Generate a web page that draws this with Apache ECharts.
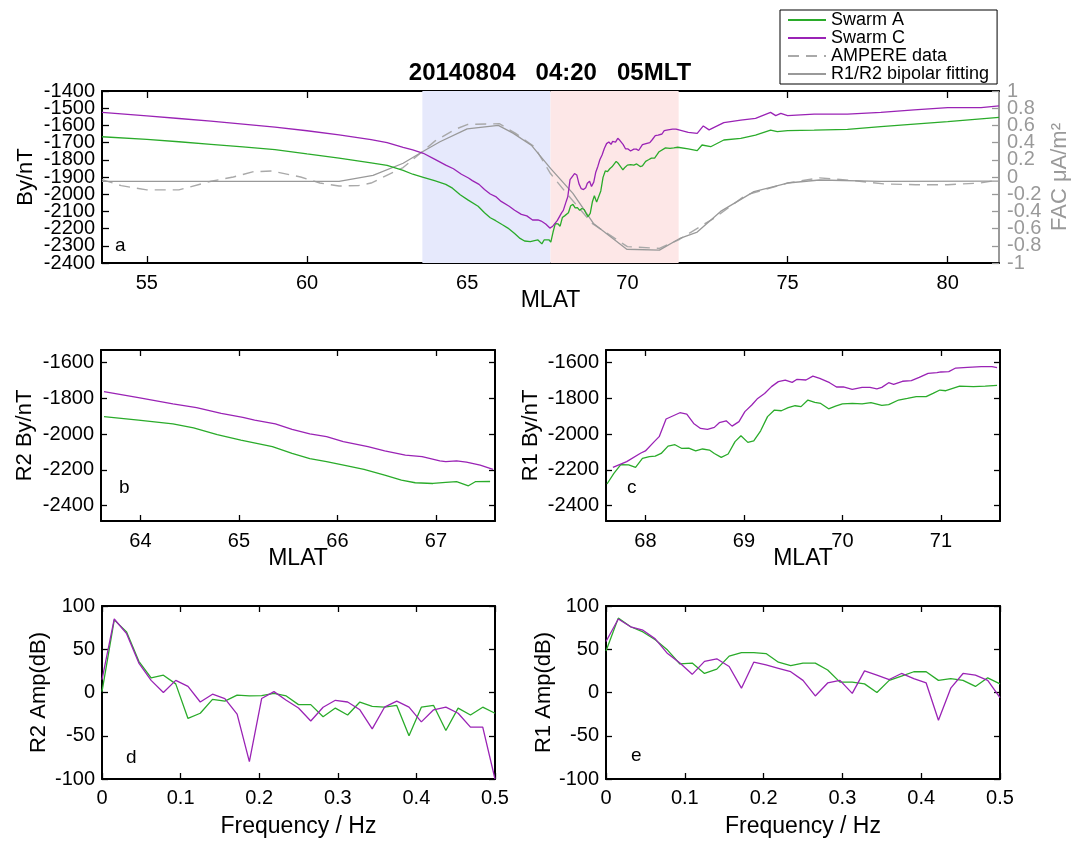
<!DOCTYPE html>
<html>
<head>
<meta charset="utf-8">
<script src="https://cdn.jsdelivr.net/npm/echarts@6/dist/echarts.min.js"></script>
<style>
html, body { margin: 0; background: #fff; }
#chart { width: 1084px; height: 842px; }
</style>
</head>
<body>
<div id="chart"></div>
<script>
// ---- data ----
// panel a, equatorward of the R2 region
const leftMlat = [53.6, 55, 56, 57, 58, 59, 60, 61, 62, 62.5, 63, 63.3]
const leftSwarmA = [-1666, -1681, -1695, -1710, -1725, -1741, -1766, -1790, -1818, -1832, -1862, -1884]
const leftSwarmC = [-1524, -1545, -1560, -1575, -1592, -1610, -1631, -1655, -1683, -1700, -1728, -1742]

// R2 region (panel b)
const r2MlatA = [63.63, 63.98, 64.33, 64.54, 64.78, 65.02, 65.34, 65.54, 65.72, 65.89, 66.1, 66.27, 66.48, 66.65, 66.79, 66.97, 67.1, 67.21, 67.33, 67.4, 67.55]
const r2ByA = [-1902, -1921, -1943, -1965, -2003, -2033, -2070, -2108, -2137, -2154, -2178, -2197, -2229, -2257, -2272, -2276, -2270, -2266, -2289, -2266, -2265]
const r2MlatC = [63.63, 63.98, 64.33, 64.57, 64.82, 65.04, 65.16, 65.37, 65.54, 65.72, 65.89, 66.06, 66.31, 66.48, 66.69, 66.86, 67.04, 67.1, 67.21, 67.31, 67.45, 67.58]
const r2ByC = [-1762, -1796, -1831, -1852, -1884, -1906, -1921, -1943, -1973, -1999, -2014, -2042, -2070, -2093, -2117, -2126, -2150, -2154, -2149, -2156, -2173, -2197]

// R1 region (panel c)
const r1MlatA = [67.61, 67.68, 67.75, 67.83, 67.9, 67.97, 68.04, 68.1, 68.16, 68.23, 68.3, 68.37, 68.44, 68.51, 68.58, 68.65, 68.7, 68.77, 68.84, 68.91, 68.97, 69.04, 69.1, 69.17, 69.24, 69.31, 69.38, 69.45, 69.52, 69.58, 69.65, 69.72, 69.78, 69.86, 69.93, 70.0, 70.1, 70.2, 70.29, 70.4, 70.47, 70.57, 70.66, 70.75, 70.85, 70.92, 70.99, 71.05, 71.19, 71.33, 71.45, 71.57]
const r1ByA = [-2279, -2220, -2171, -2172, -2186, -2136, -2126, -2123, -2108, -2067, -2059, -2080, -2078, -2094, -2083, -2089, -2108, -2130, -2111, -2042, -2009, -2046, -2037, -1981, -1902, -1865, -1869, -1852, -1841, -1846, -1809, -1822, -1828, -1858, -1843, -1831, -1828, -1831, -1824, -1839, -1835, -1809, -1800, -1790, -1790, -1772, -1753, -1757, -1731, -1734, -1731, -1727]
const r1MlatC = [67.67, 67.81, 67.95, 68.0, 68.09, 68.14, 68.21, 68.35, 68.42, 68.49, 68.56, 68.63, 68.7, 68.75, 68.82, 68.88, 68.95, 69.01, 69.08, 69.14, 69.21, 69.28, 69.35, 69.42, 69.49, 69.54, 69.63, 69.7, 69.77, 69.87, 69.94, 70.01, 70.1, 70.2, 70.28, 70.35, 70.4, 70.47, 70.52, 70.61, 70.7, 70.78, 70.87, 70.96, 71.0, 71.08, 71.15, 71.27, 71.41, 71.52, 71.57]
const r1ByC = [-2186, -2154, -2107, -2094, -2042, -2014, -1915, -1880, -1888, -1940, -1968, -1973, -1962, -1936, -1925, -1955, -1930, -1874, -1837, -1800, -1772, -1734, -1706, -1697, -1710, -1693, -1697, -1675, -1688, -1712, -1736, -1736, -1749, -1738, -1738, -1746, -1738, -1712, -1721, -1704, -1700, -1682, -1660, -1656, -1652, -1650, -1630, -1626, -1622, -1622, -1628]

// panel a, poleward of the R1 region
const rightMlatA = [71.9, 72.18, 72.33, 72.6, 73.01, 73.54, 74.0, 74.47, 74.68, 75.0, 75.83, 76.87, 77.91, 78.95, 80.0, 81.6]
const rightSwarmA = [-1737, -1747, -1714, -1724, -1685, -1675, -1656, -1627, -1636, -1630, -1627, -1623, -1607, -1592, -1578, -1553]
const rightMlatC = [71.9, 72.18, 72.37, 72.55, 73.01, 73.54, 74.0, 74.47, 74.63, 74.79, 75.0, 75.83, 76.87, 77.91, 78.95, 80.0, 81.04, 81.6]
const rightSwarmC = [-1640, -1646, -1603, -1626, -1584, -1569, -1559, -1524, -1543, -1530, -1543, -1534, -1535, -1524, -1510, -1497, -1497, -1487]

// FAC (right axis of panel a)
const ampereMlat = [53.6, 54.2, 55, 56, 57, 57.7, 58.3, 58.9, 59.8, 60.4, 61.0, 61.6, 62, 63, 64, 64.6, 65, 66, 66.5, 67.1, 67.6, 68.1, 68.9, 70.0, 71.0, 71.6, 72.3, 72.7, 73.7, 75.0, 76.0, 77.0, 78.0, 79.0, 80.0, 81.0, 81.6]
const ampereFac = [-0.03, -0.1, -0.15, -0.15, -0.05, 0.0, 0.06, 0.07, 0.0, -0.07, -0.105, -0.1, -0.07, 0.11, 0.42, 0.55, 0.61, 0.62, 0.51, 0.35, 0.04, -0.19, -0.54, -0.81, -0.83, -0.73, -0.57, -0.48, -0.21, -0.07, -0.01, -0.04, -0.08, -0.09, -0.09, -0.07, -0.035]
const fitMlat = [53.6, 61.0, 62.06, 63.0, 63.63, 64.15, 65.0, 65.97, 66.43, 67.0, 67.6, 68.3, 68.94, 69.98, 71.0, 71.66, 72.18, 72.91, 73.95, 75.0, 76.0, 77.9, 81.6]
const fitFac = [-0.05, -0.05, 0.02, 0.16, 0.3, 0.41, 0.56, 0.6, 0.51, 0.37, 0.1, -0.19, -0.54, -0.84, -0.85, -0.71, -0.64, -0.4, -0.17, -0.07, -0.035, -0.05, -0.047]

// shaded R2 / R1 regions
const shadeEdges = [63.6, 67.6, 71.6]

// spectra (panels d, e)
const freq = [0, 0.0156, 0.0313, 0.0469, 0.0625, 0.0781, 0.0938, 0.1094, 0.125, 0.1406, 0.1563, 0.1719, 0.1875, 0.2031, 0.2188, 0.2344, 0.25, 0.2656, 0.2813, 0.2969, 0.3125, 0.3281, 0.3438, 0.3594, 0.375, 0.3906, 0.4063, 0.4219, 0.4375, 0.4531, 0.4688, 0.4844, 0.5]
const r2AmpA = [1, 84, 70, 36, 17, 20, 10, -30, -24, -8, -10, -3, -4, -3.5, -1, -4, -14, -14, -28, -18, -26, -11, -16, -17, -15, -50, -17, -15, -44, -18, -26, -17, -24]
const r2AmpC = [15, 85, 68, 34, 14, 0, 14, 7, -11, -2, -7, -25, -80, -7, 1, -9, -18, -33, -17, -9, -11, -20, -42, -17, -10, -17, -34, -20, -17, -24, -40, -40, -100]
const r1AmpA = [48, 86, 76, 70, 61, 49, 33, 34, 22, 27, 42, 46, 46, 45, 35, 31, 34, 34, 26, 12, 12, 10, 0, 14, 19, 24, 24, 14, 16, 14, 7, 17, 10]
const r1AmpC = [59, 85, 76, 72, 62, 45, 34, 21, 36, 39, 30, 5, 35, 32, 28, 24, 14, -4, 11, 14, -1, 25, 20, 15, 22, 16, 11, -32, 5, 22, 20, 14, -6]

// tick labels
const aXTicks = [55, 60, 65, 70, 75, 80]
const aYTicks = [-2400, -2300, -2200, -2100, -2000, -1900, -1800, -1700, -1600, -1500, -1400]
const aYLabelsEven = [-2400, -2200, -2000, -1800, -1600, -1400]
const aYLabelsOdd = [-2300, -2100, -1900, -1700, -1500]
const facTicks = [-1, -0.8, -0.6, -0.4, -0.2, 0, 0.2, 0.4, 0.6, 0.8, 1]
const facLabelsEven = [-1, -0.6, -0.2, 0.2, 0.6, 1]
const facLabelsOdd = [-0.8, -0.4, 0, 0.4, 0.8]
const r2XTicks = [64, 65, 66, 67]
const r1XTicks = [68, 69, 70, 71]
const byTicks = [-2400, -2200, -2000, -1800, -1600]

const FONT = '"Liberation Sans", Arial, Helvetica, sans-serif'
const GREEN = '#2aab2a'
const PURPLE = '#9a23b5'
const GREY = '#999999'

const pairs = (xs, ys) => xs.map((x, i) => [x, ys[i]])
const facFormat = v => String(+v.toFixed(1))

/**
 * value axis with inward ticks; mirror = ticks only, labelsOnly = labels only
 */
const axis = (o) => {
    const color = o.color || '#000'
    return {
        type: 'value',
        gridIndex: o.grid,
        position: o.pos,
        min: o.min,
        max: o.max,
        interval: o.interval,
        name: o.name || '',
        nameLocation: 'middle',
        nameGap: o.nameGap,
        nameRotate: o.nameRotate,
        nameMoveOverlap: false,
        nameTextStyle: { color: color, fontSize: o.nameSize || 22, fontFamily: FONT },
        axisLine: { show: !o.labelsOnly, onZero: false, lineStyle: { color: color, width: 2 } },
        axisTick: { show: !o.labelsOnly, inside: true, length: o.tick || 6, customValues: o.ticks, lineStyle: { color: color, width: 1.3 } },
        axisLabel: {
            show: !o.mirror,
            customValues: o.labels || o.ticks,
            showMinLabel: true,
            showMaxLabel: true,
            hideOverlap: false,
            margin: o.margin || 8,
            color: color,
            fontSize: 20,
            fontFamily: FONT,
            formatter: o.formatter || (v => String(v))
        },
        splitLine: { show: false }
    }
}

const line = (name, data, color, xi, yi, extra) => Object.assign({
    name: name,
    type: 'line',
    xAxisIndex: xi,
    yAxisIndex: yi,
    data: data,
    symbol: 'none',
    z: 3,
    lineStyle: { color: color, width: 1.3 },
    itemStyle: { color: color }
}, extra || {})

const letter = (t, x, y) => ({
    type: 'text', x: x, y: y,
    style: { text: t, font: '19px ' + FONT, fill: '#000', textAlign: 'left', textVerticalAlign: 'middle' }
})

const swarmATop = pairs(leftMlat.concat(r2MlatA, r1MlatA, rightMlatA), leftSwarmA.concat(r2ByA, r1ByA, rightSwarmA))
const swarmCTop = pairs(leftMlat.concat(r2MlatC, r1MlatC, rightMlatC), leftSwarmC.concat(r2ByC, r1ByC, rightSwarmC))

const myCharts = echarts.init(document.getElementById('chart'), null, { renderer: 'canvas' })

const option = {
    animation: false,
    backgroundColor: '#fff',
    textStyle: { fontFamily: FONT },
    grid: [
        { left: 102, top: 91, width: 897, height: 172 },
        { left: 101, top: 350, width: 394, height: 171 },
        { left: 606, top: 350, width: 394, height: 171 },
        { left: 102, top: 606, width: 393, height: 173 },
        { left: 606, top: 606, width: 394, height: 173 }
    ],
    legend: {
        orient: 'vertical',
        left: 780,
        top: 10,
        padding: [1, 8, 1, 7],
        itemGap: 0,
        itemWidth: 38,
        itemHeight: 18,
        borderColor: '#000',
        borderWidth: 1,
        itemStyle: { opacity: 0 },
        textStyle: { color: '#000', fontSize: 18, lineHeight: 18, fontFamily: FONT },
        data: ['Swarm A', 'Swarm C', 'AMPERE data', 'R1/R2 bipolar fitting']
    },
    xAxis: [
        axis({ grid: 0, pos: 'bottom', min: 53.6, max: 81.6, ticks: aXTicks, tick: 7, margin: 10, name: 'MLAT', nameGap: 26, nameSize: 23 }),
        axis({ grid: 0, pos: 'top', min: 53.6, max: 81.6, ticks: aXTicks, tick: 7, mirror: true }),
        axis({ grid: 1, pos: 'bottom', min: 63.6, max: 67.6, ticks: r2XTicks, margin: 10, name: 'MLAT', nameGap: 26, nameSize: 23 }),
        axis({ grid: 1, pos: 'top', min: 63.6, max: 67.6, ticks: r2XTicks, mirror: true }),
        axis({ grid: 2, pos: 'bottom', min: 67.6, max: 71.6, ticks: r1XTicks, margin: 10, name: 'MLAT', nameGap: 26, nameSize: 23 }),
        axis({ grid: 2, pos: 'top', min: 67.6, max: 71.6, ticks: r1XTicks, mirror: true }),
        axis({ grid: 3, pos: 'bottom', min: 0, max: 0.5, interval: 0.1, margin: 9, name: 'Frequency / Hz', nameGap: 36, nameSize: 23 }),
        axis({ grid: 3, pos: 'top', min: 0, max: 0.5, interval: 0.1, mirror: true }),
        axis({ grid: 4, pos: 'bottom', min: 0, max: 0.5, interval: 0.1, margin: 9, name: 'Frequency / Hz', nameGap: 36, nameSize: 23 }),
        axis({ grid: 4, pos: 'top', min: 0, max: 0.5, interval: 0.1, mirror: true })
    ],
    yAxis: [
        axis({ grid: 0, pos: 'left', min: -2400, max: -1400, ticks: aYTicks, labels: aYLabelsEven, tick: 7, margin: 7, name: 'By/nT', nameGap: 65, nameRotate: 90 }),
        axis({
            grid: 0, pos: 'right', min: -1, max: 1, ticks: facTicks, labels: facLabelsEven, tick: 7, margin: 8, color: GREY,
            name: 'FAC μA/m²', nameGap: 50, nameRotate: 90, formatter: facFormat
        }),
        axis({ grid: 1, pos: 'left', min: -2486, max: -1529, ticks: byTicks, margin: 7, name: 'R2 By/nT', nameGap: 65, nameRotate: 90 }),
        axis({ grid: 1, pos: 'right', min: -2486, max: -1529, ticks: byTicks, mirror: true }),
        axis({ grid: 2, pos: 'left', min: -2486, max: -1529, ticks: byTicks, margin: 7, name: 'R1 By/nT', nameGap: 64, nameRotate: 90 }),
        axis({ grid: 2, pos: 'right', min: -2486, max: -1529, ticks: byTicks, mirror: true }),
        axis({ grid: 3, pos: 'left', min: -100, max: 100, interval: 50, margin: 7, name: 'R2 Amp(dB)', nameGap: 52, nameRotate: 90 }),
        axis({ grid: 3, pos: 'right', min: -100, max: 100, interval: 50, mirror: true }),
        axis({ grid: 4, pos: 'left', min: -100, max: 100, interval: 50, margin: 7, name: 'R1 Amp(dB)', nameGap: 51, nameRotate: 90 }),
        axis({ grid: 4, pos: 'right', min: -100, max: 100, interval: 50, mirror: true }),
        // second label rows for the crowded axes of panel a
        axis({ grid: 0, pos: 'left', min: -2400, max: -1400, labels: aYLabelsOdd, margin: 7, labelsOnly: true }),
        axis({ grid: 0, pos: 'right', min: -1, max: 1, labels: facLabelsOdd, margin: 8, color: GREY, labelsOnly: true, formatter: facFormat })
    ],
    series: [
        {
            name: 'shade',
            type: 'line',
            xAxisIndex: 0,
            yAxisIndex: 0,
            data: [],
            z: 1,
            silent: true,
            markArea: {
                silent: true,
                data: [
                    [{ xAxis: shadeEdges[0], itemStyle: { color: '#e6e9fc', opacity: 1 } }, { xAxis: shadeEdges[1] }],
                    [{ xAxis: shadeEdges[1], itemStyle: { color: '#fde7e7', opacity: 1 } }, { xAxis: shadeEdges[2] }]
                ]
            }
        },
        line('AMPERE data', pairs(ampereMlat, ampereFac), '#a9a9a9', 0, 1, {
            lineStyle: { color: '#a9a9a9', width: 1.4, type: [11, 7] }
        }),
        line('R1/R2 bipolar fitting', pairs(fitMlat, fitFac), GREY, 0, 1),
        line('Swarm A', swarmATop, GREEN, 0, 0),
        line('Swarm C', swarmCTop, PURPLE, 0, 0),
        line('Swarm A', pairs(r2MlatA, r2ByA), GREEN, 2, 2),
        line('Swarm C', pairs(r2MlatC, r2ByC), PURPLE, 2, 2),
        line('Swarm A', pairs(r1MlatA, r1ByA), GREEN, 4, 4),
        line('Swarm C', pairs(r1MlatC, r1ByC), PURPLE, 4, 4),
        line('Swarm A', pairs(freq, r2AmpA), GREEN, 6, 6),
        line('Swarm C', pairs(freq, r2AmpC), PURPLE, 6, 6),
        line('Swarm A', pairs(freq, r1AmpA), GREEN, 8, 8),
        line('Swarm C', pairs(freq, r1AmpC), PURPLE, 8, 8)
    ],
    graphic: [
        {
            type: 'text', x: 550, y: 73,
            style: { text: '20140804   04:20   05MLT', font: 'bold 24px ' + FONT, fill: '#000', textAlign: 'center', textVerticalAlign: 'middle' }
        },
        letter('a', 115, 246),
        letter('b', 119, 488),
        letter('c', 627, 488),
        letter('d', 126, 758),
        letter('e', 631, 756)
    ]
}

myCharts.setOption(option)
</script>
</body>
</html>
